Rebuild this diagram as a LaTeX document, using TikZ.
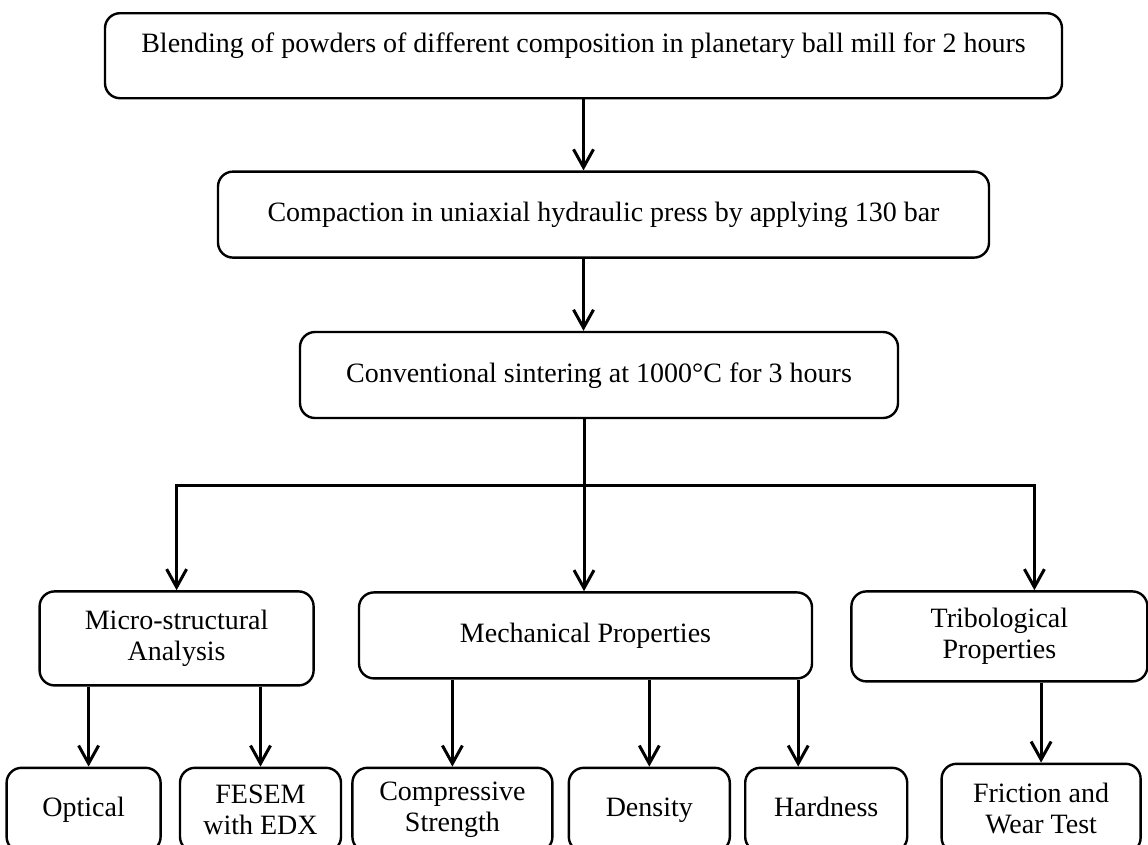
\documentclass[tikz,border=0pt]{standalone}
\usepackage{fontspec}
\setmainfont{Liberation Serif}
\usetikzlibrary{arrows.meta,positioning}

\begin{document}
\begin{tikzpicture}[
  x=1pt, y=-1pt,
  >={Straight Barb[length=18pt,width=20pt]},
  every node/.style={font=\fontsize{28}{31}\selectfont},
  proc/.style={draw, line width=2.4pt, rounded corners=15pt,
    align=center, inner sep=0pt},
  oneline/.style={text height=20pt, text depth=6pt},
  arr/.style={->, line width=3pt}
]
  \useasboundingbox (0,0) rectangle (1148,844);

  % Main process chain
  \node (blend) [proc, anchor=north, minimum width=957pt,
    text height=39pt, text depth=46pt] at (583.5,12)
    {Blending of powders of different composition in planetary ball mill for 2 hours};
  \node (press) [proc, oneline, below=71pt of blend, xshift=20pt,
    minimum width=771pt, minimum height=86pt]
    {Compaction in uniaxial hydraulic press by applying 130 bar};
  \node (sinter) [proc, oneline, below=72pt of press, xshift=-4.5pt,
    minimum width=598pt, minimum height=86pt]
    {Conventional sintering at 1000°C for 3 hours};

  % Property groups
  \node (mech) [proc, oneline, below=172pt of sinter, xshift=-13.5pt,
    minimum width=453pt, minimum height=86pt] {Mechanical Properties};
  \node (micro) [proc, left=43pt of mech, yshift=-3pt,
    minimum width=274pt, minimum height=94pt] {Micro-structural\\Analysis};
  \node (trib) [proc, right=37pt of mech, yshift=-1pt,
    minimum width=296pt, minimum height=90pt] {Tribological\\Properties};

  % Tests
  \node (optical) [proc, oneline, below=80pt of micro, xshift=-93pt,
    minimum width=154pt, minimum height=84pt] {Optical};
  \node (fesem) [proc, right=17pt of optical,
    minimum width=161pt, minimum height=84pt] {FESEM\\with EDX};
  \node (comp) [proc, right=9pt of fesem,
    minimum width=200pt, minimum height=84pt] {Compressive\\Strength};
  \node (dens) [proc, oneline, right=14pt of comp,
    minimum width=161pt, minimum height=84pt] {Density};
  \node (hard) [proc, oneline, right=13pt of dens,
    minimum width=162pt, minimum height=84pt] {Hardness};
  \node (fric) [proc, right=32pt of hard, yshift=1.5pt,
    minimum width=199pt, minimum height=89pt] {Friction and\\Wear Test};

  % Branch points
  \coordinate (split) at (584,485);
  \coordinate (tribin) at ([xshift=35pt]trib.north);
  \coordinate (optin) at ([xshift=5pt]optical.north);
  \coordinate (hardin) at ([xshift=-28pt]hard.north);

  % Arrows
  \draw[arr] (blend.south) -- (blend.south |- press.north);
  \draw[arr] (press.south -| blend.south) -- (blend.south |- sinter.north);
  \draw[arr] (sinter.south -| split) -- (split |- mech.north);
  \draw[arr] (split) -| (micro.north);
  \draw[arr] (split) -| (tribin);

  \draw[arr] (micro.south -| optin) -- (optin);
  \draw[arr] (micro.south -| fesem.north) -- (fesem.north);
  \draw[arr] (mech.south -| comp.north) -- (comp.north);
  \draw[arr] (mech.south -| dens.north) -- (dens.north);
  \draw[arr] (mech.south -| hardin) -- (hardin);
  \draw[arr] (trib.south -| fric.north) -- (fric.north);
\end{tikzpicture}
\end{document}
